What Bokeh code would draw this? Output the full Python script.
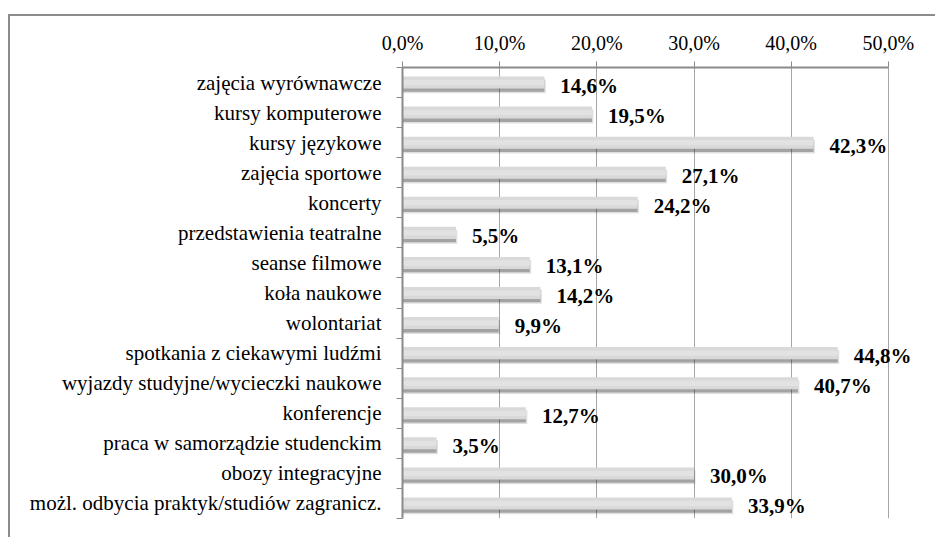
from bokeh.plotting import figure
from bokeh.models import ColumnDataSource, Range1d, FixedTicker
from bokeh.core.properties import value
from bokeh.embed import file_html
from bokeh.resources import INLINE

categories = [
    "zajęcia wyrównawcze",
    "kursy komputerowe",
    "kursy językowe",
    "zajęcia sportowe",
    "koncerty",
    "przedstawienia teatralne",
    "seanse filmowe",
    "koła naukowe",
    "wolontariat",
    "spotkania z ciekawymi ludźmi",
    "wyjazdy studyjne/wycieczki naukowe",
    "konferencje",
    "praca w samorządzie studenckim",
    "obozy integracyjne",
    "możl. odbycia praktyk/studiów zagranicz.",
]
values = [14.6, 19.5, 42.3, 27.1, 24.2, 5.5, 13.1, 14.2, 9.9, 44.8, 40.7, 12.7, 3.5, 30.0, 33.9]
x_ticks = [0, 10, 20, 30, 40, 50]
x_tick_labels = ["0,0%", "10,0%", "20,0%", "30,0%", "40,0%", "50,0%"]

n = len(categories)
centers = [i + 0.5 for i in range(n)]
labels = [("%.1f" % v).replace(".", ",") + "%" for v in values]

src = ColumnDataSource(dict(
    y=centers,
    y_sh1=[c + 0.10 for c in centers],
    y_sh2=[c + 0.13 for c in centers],
    v=values,
    v_sh=[v + 0.15 for v in values],
    lab=labels,
))

FONT = "Times New Roman, Liberation Serif, serif"
GRAY = "#8a8a8a"

p = figure(
    width=927, height=523,
    x_range=Range1d(0, 53), y_range=Range1d(n, 0),
    x_axis_location="above",
    output_backend="svg", toolbar_location=None,
    min_border_left=392, min_border_right=20, min_border_top=51, min_border_bottom=21,
    outline_line_color=None,
)
p.styles = {"border-top": "2px solid #8c8c8c", "border-left": "2px solid #8c8c8c",
            "margin-top": "14px", "margin-left": "8px"}

# shadows
p.hbar(y="y_sh2", left=0, right="v_sh", height=0.46, source=src, fill_color="#000000", fill_alpha=0.12, line_color=None)
p.hbar(y="y_sh1", left=0, right="v", height=0.42, source=src, fill_color="#303030", fill_alpha=0.35, line_color=None)
# bars
p.hbar(y="y", left=0, right="v", height=0.40, source=src, fill_color="#d9d9d9", line_color=None)
p.hbar(y="y", left=0, right="v", height=0.18, source=src, fill_color="#e2e2e2", line_color=None)

p.text(x="v", y="y", text="lab", source=src, x_offset=16, y_offset=3,
       text_font=value(FONT), text_font_size="21px", text_font_style="bold",
       text_baseline="middle", text_align="left", text_color="#000000")

# x axis (top)
xa = p.xaxis[0]
xa.ticker = FixedTicker(ticks=x_ticks)
xa.major_label_overrides = {t: l for t, l in zip(x_ticks, x_tick_labels)}
xa.bounds = (0, 50)
xa.axis_line_color = GRAY
xa.axis_line_width = 2
xa.major_tick_line_color = GRAY
xa.major_tick_out = 6
xa.major_tick_in = 0
xa.minor_tick_line_color = None
xa.major_label_text_font = FONT
xa.major_label_text_font_size = "20px"
xa.major_label_text_color = "#000000"
xa.major_label_standoff = 8

# y axis (left)
ya = p.yaxis[0]
ya.ticker = FixedTicker(ticks=centers, minor_ticks=list(range(n + 1)))
ya.major_label_overrides = {c: name for c, name in zip(centers, categories)}
ya.axis_line_color = GRAY
ya.axis_line_width = 2
ya.major_tick_line_color = None
ya.major_tick_out = 0
ya.major_tick_in = 0
ya.minor_tick_line_color = GRAY
ya.minor_tick_out = 6
ya.minor_tick_in = 0
ya.major_label_text_font = FONT
ya.major_label_text_font_size = "21px"
ya.major_label_text_color = "#000000"
ya.major_label_standoff = 15

p.xgrid.ticker = FixedTicker(ticks=x_ticks[1:])
p.xgrid.grid_line_color = "#a6a6a6"
p.xgrid.grid_line_width = 1
p.ygrid.grid_line_color = None

open("out.html", "w").write(file_html(p, INLINE))
